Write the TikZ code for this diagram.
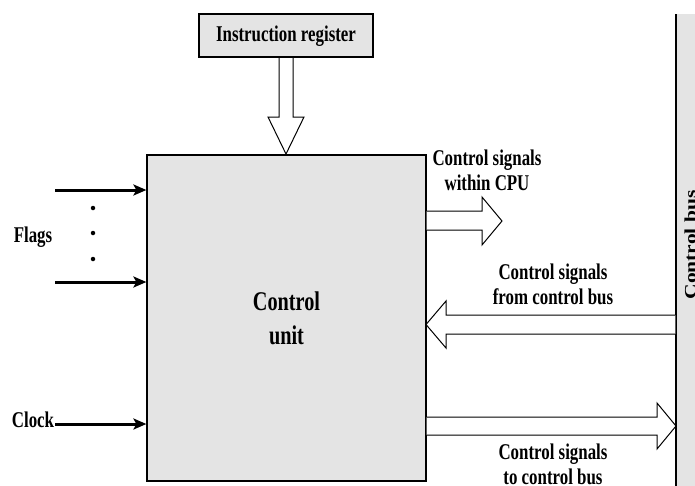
\documentclass[tikz,border=0pt]{standalone}
\usepackage{fontspec}
\usepackage{graphicx}
\setmainfont{Liberation Serif}[FakeStretch=0.75]
\newfontfamily\busfont{Liberation Serif}
\usetikzlibrary{arrows.meta}
\definecolor{boxgray}{RGB}{228,228,228}
\begin{document}
\begin{tikzpicture}[x=1pt,y=-1pt,
  lbl/.style={font=\fontsize{22.5}{25}\selectfont\bfseries, align=center, inner sep=0pt},
  graybox/.style={draw=black, fill=boxgray, line width=1.2pt, inner sep=0pt},
  hollow/.style={draw=black, fill=white, line width=1pt, line join=miter},
  thickarrow/.style={line width=3pt, -{Stealth[length=13pt,width=11pt,inset=3pt]}},
  dotmark/.style={circle, fill=black, inner sep=0pt, minimum size=4.5pt}
]
\useasboundingbox (0,0) rectangle (695,485);
\clip (0,0) rectangle (695,485);

% control bus
\fill[boxgray] (676,14) rectangle (700,490);
\draw[line width=1.2pt] (676,14) -- (676,490);
\node[rotate=90, anchor=base, inner sep=0pt] (bus) at (696,245)
  {\scalebox{1}[0.78]{\busfont\bfseries\fontsize{21.5}{25}\selectfont Control bus}};

% instruction register
\node[graybox, minimum width=174pt, minimum height=43pt] (ir) at (286,35.5) {};
\node[lbl] (irt) at (286,36) {Instruction register};

% control unit
\node[graybox, minimum width=279pt, minimum height=326pt] (cu) at (286.5,318) {};
\node[font=\fontsize{27}{34}\selectfont\bfseries, align=center, inner sep=0pt] (cut) at (286.5,318) {Control\\unit};

% hollow arrow from IR
\filldraw[hollow] (279,58) -- (279,117) -- (268,117) -- (286,154) -- (304,117) -- (293,117) -- (293,58);

% within CPU
\filldraw[hollow] (426.6,211) -- (482,211) -- (482,197) -- (502,221) -- (482,245) -- (482,230) -- (426.6,230);
\node[lbl] (l1) at (487,170) {Control signals\\within CPU};

% from control bus
\filldraw[hollow] (675.4,315) -- (446,315) -- (446,301) -- (426,324.5) -- (446,348) -- (446,334) -- (675.4,334);
\node[lbl] (l2) at (553,284.5) {Control signals\\from control bus};

% to control bus
\filldraw[hollow] (426.6,417) -- (657,417) -- (657,403) -- (676,426) -- (657,449) -- (657,435) -- (426.6,435);
\node[lbl] (l3) at (553,464.5) {Control signals\\to control bus};

% flags
\coordinate (f1) at (55,190);
\coordinate (f2) at (55,282);
\draw[thickarrow] (f1) -- (f1 -| cu.west);
\draw[thickarrow] (f2) -- (f2 -| cu.west);
\node[dotmark] (d1) at (93,208) {};
\node[dotmark] (d2) at (93,233) {};
\node[dotmark] (d3) at (93,259) {};
\node[lbl, anchor=base] (flags) at (33,242) {Flags};

% clock
\node[lbl, anchor=base] (clock) at (33,427) {Clock};
\coordinate (ck) at (55,424);
\draw[thickarrow] (ck) -- (ck -| cu.west);
\end{tikzpicture}
\end{document}
